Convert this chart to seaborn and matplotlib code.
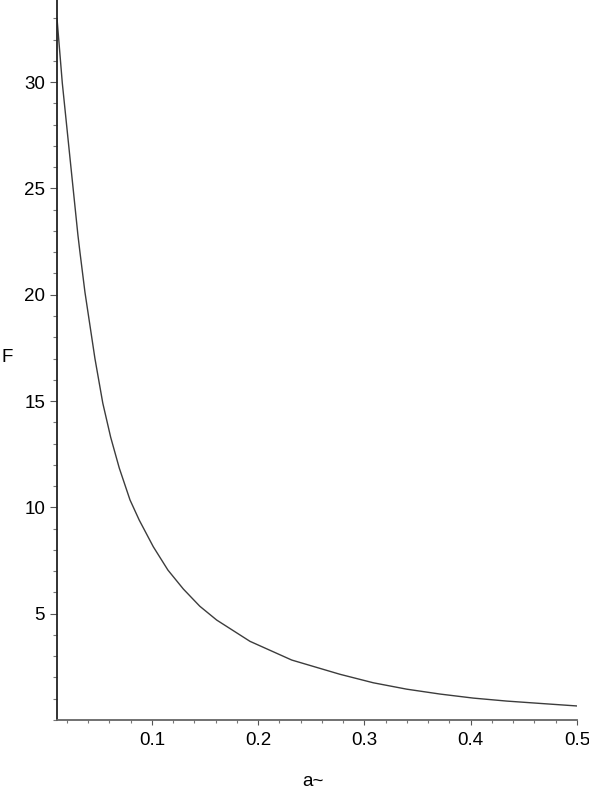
import matplotlib
matplotlib.use("Agg")
import matplotlib.pyplot as plt
from matplotlib.ticker import MultipleLocator
import pandas as pd
import seaborn as sns

# values
a_tilde = [0.0106, 0.0156, 0.0235, 0.0303, 0.0322, 0.0369, 0.0463, 0.0537,
           0.0611, 0.0692, 0.0793, 0.0880, 0.1012, 0.1150, 0.1295, 0.1450,
           0.1609, 0.1922, 0.2315, 0.2769, 0.3083, 0.3397, 0.3711, 0.4024,
           0.4338, 0.4652, 0.5000]
F_vals = [33.0, 29.95, 26.1, 22.8, 22.0, 20.12, 17.0, 14.9,
          13.3, 11.85, 10.35, 9.4, 8.15, 7.05, 6.16, 5.35,
          4.70, 3.70, 2.82, 2.15, 1.75, 1.45, 1.22, 1.03,
          0.89, 0.78, 0.66]

x_ticks = [0.1, 0.2, 0.3, 0.4, 0.5]
y_ticks = [5, 10, 15, 20, 25, 30]

sns.set_style("ticks")
plt.rcParams["font.family"] = ["Liberation Sans", "DejaVu Sans"]

df = pd.DataFrame({"a": a_tilde, "F": F_vals})

fig = plt.figure(figsize=(5.89, 7.92), dpi=100)
ax = fig.add_axes([57 / 589, 72 / 792, 520 / 589, 720 / 792])

sns.lineplot(data=df, x="a", y="F", ax=ax, color="#3c3c3c", linewidth=1.0)

ax.set_xlim(0.0106, 0.5)
ax.set_ylim(0, 33.86)
ax.set_xticks(x_ticks)
ax.set_xticklabels([str(t) for t in x_ticks])
ax.set_yticks(y_ticks)
ax.set_yticklabels([str(t) for t in y_ticks])
ax.xaxis.set_minor_locator(MultipleLocator(0.02))
ax.yaxis.set_minor_locator(MultipleLocator(1))

ax.tick_params(axis="y", which="major", length=5, width=0.8, pad=3.5,
               labelsize=13.5, color="#555555", labelcolor="black")
ax.tick_params(axis="y", which="minor", length=3, width=0.8, color="#777777")
ax.tick_params(axis="x", which="major", length=3.5, width=0.8, pad=5,
               labelsize=13.5, color="#555555", labelcolor="black")
ax.tick_params(axis="x", which="minor", length=2.5, width=0.8, color="#777777")

for side in ["top", "right"]:
    ax.spines[side].set_visible(False)
ax.spines["left"].set_linewidth(1.3)
ax.spines["left"].set_color("#222222")
ax.spines["bottom"].set_linewidth(1.3)
ax.spines["bottom"].set_color("#666666")

ax.set_xlabel("")
ax.set_ylabel("")
fig.text(7 / 589, 1 - 358 / 792, "F", fontsize=13.5, color="black",
         ha="center", va="center")
fig.text(313 / 589, 1 - 781 / 792, "a~", fontsize=13.5, color="black",
         ha="center", va="center")

fig.savefig("out.png", dpi=100, facecolor="white")
